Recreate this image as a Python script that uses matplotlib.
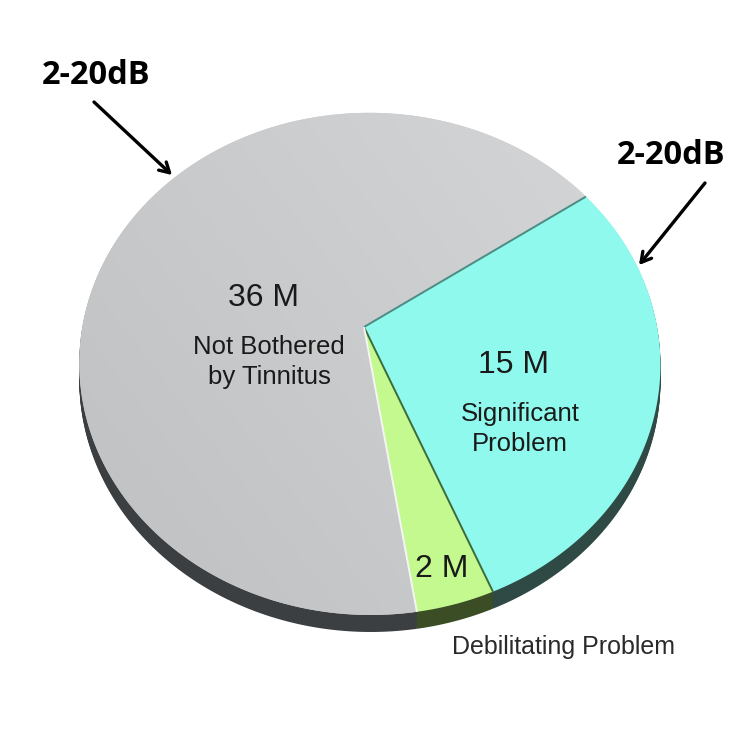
import numpy as np
import matplotlib
matplotlib.use("Agg")
import matplotlib.pyplot as plt
from matplotlib.patches import Polygon
from matplotlib.colors import LinearSegmentedColormap

# ---- data ----
categories = ["Significant Problem", "Debilitating Problem", "Not Bothered by Tinnitus"]
values_m = [15, 2, 36]
value_labels = ["15 M", "2 M", "36 M"]
annot_text = ["2-20dB", "2-20dB"]

# ---- style / geometry ----
top_colors = ["#8ef9ec", "#c3f98f", "#c9cacc"]
side_colors = ["#2f4a45", "#3b4d25", "#3c3f41"]

W = H = 747
fig = plt.figure(figsize=(7.47, 7.47), dpi=100)
ax = fig.add_axes([0, 0, 1, 1])
ax.set_xlim(0, W)
ax.set_ylim(H, 0)
ax.axis("off")

# perspective disc parameters (pixel space)
cx, vy = 364, 327        # projected centre of the disc
k = 0.147                # vertical perspective strength
m = -0.02                # horizontal perspective strength
sx, sy = 287.3, 245.6    # horizontal / vertical scale
depth = 17               # thickness of the disc side
start = 34.5             # start angle (deg), clockwise


def project(x, y):
    d = 1 + k * y + m * x
    return cx + sx * x / d, vy - sy * y / d


total = float(sum(values_m))
angles = [start]
for v in values_m:
    angles.append(angles[-1] - 360.0 * v / total)

polys = []
vx, vyy = project(0.0, 0.0)
for i in range(len(values_m)):
    a0, a1 = angles[i], angles[i + 1]
    t = np.radians(np.linspace(a0, a1, 300))
    px, py = project(np.cos(t), np.sin(t))
    pts = np.column_stack([np.r_[vx, px], np.r_[vyy, py]])
    polys.append(pts)

# side of the disc
for dz in range(depth, 0, -1):
    for i, pts in enumerate(polys):
        shifted = pts + np.array([0, dz])
        ax.add_patch(Polygon(shifted, closed=True, facecolor=side_colors[i],
                             edgecolor="none", zorder=1))

# top surface
for i, pts in enumerate(polys):
    p = Polygon(pts, closed=True, facecolor=top_colors[i], edgecolor="none",
                zorder=2)
    ax.add_patch(p)
    if i == 2:
        # subtle shading on the grey slice
        gx, gy = np.meshgrid(np.linspace(0, 1, 200), np.linspace(0, 1, 200))
        shade = 0.6 * gx + 0.4 * (1 - gy)
        cmap = LinearSegmentedColormap.from_list("g", ["#bebfc1", "#d6d7d8"])
        im = ax.imshow(shade, cmap=cmap, extent=(60, 680, 640, 100),
                       zorder=2.1, interpolation="bilinear", aspect="auto")
        im.set_clip_path(p)

# wedge separators
sep_cols = ["#4d8c83", "#3d6b3a", "#f5f5f5"]
for i, a in enumerate(angles[:3]):
    ex, ey = project(np.cos(np.radians(a)), np.sin(np.radians(a)))
    ax.plot([vx, ex], [vyy, ey], color=sep_cols[i], lw=1.4, zorder=3,
            solid_capstyle="butt")

# ---- labels ----
lab_font = ["Liberation Sans", "DejaVu Sans"]
txtc = "#1a1a1a"
ax.text(264, 298, value_labels[2], fontsize=23, family=lab_font, color=txtc,
        ha="center", va="center", zorder=5)
ax.text(269, 362, "Not Bothered\nby Tinnitus", fontsize=18.5, family=lab_font,
        color=txtc, ha="center", va="center", linespacing=1.3, zorder=5)
ax.text(513, 365, value_labels[0], fontsize=23, family=lab_font, color=txtc,
        ha="center", va="center", zorder=5)
ax.text(520, 429, "Significant\nProblem", fontsize=18.5, family=lab_font,
        color=txtc, ha="center", va="center", linespacing=1.3, zorder=5)
ax.text(442, 569, value_labels[1], fontsize=23, family=lab_font, color=txtc,
        ha="center", va="center", zorder=5)
ax.text(563, 647, categories[1], fontsize=18, family=lab_font, color="#2a2a2a",
        ha="center", va="center", zorder=5)

# ---- annotations ----
ann_font = ["Open Sans", "DejaVu Sans"]
ax.text(96, 75, annot_text[0], fontsize=23.5, family=ann_font, weight="bold",
        color="black", ha="center", va="center", zorder=6)
ax.text(671, 155, annot_text[1], fontsize=23.5, family=ann_font, weight="bold",
        color="black", ha="center", va="center", zorder=6)
arrow = dict(arrowstyle="->,head_length=0.7,head_width=0.4", lw=2.4,
             color="black", shrinkA=0, shrinkB=0)
ax.annotate("", xy=(172, 175), xytext=(94, 102), arrowprops=arrow, zorder=6)
ax.annotate("", xy=(639, 265), xytext=(705, 183), arrowprops=arrow, zorder=6)

fig.savefig("out.png", dpi=100, facecolor="white")
